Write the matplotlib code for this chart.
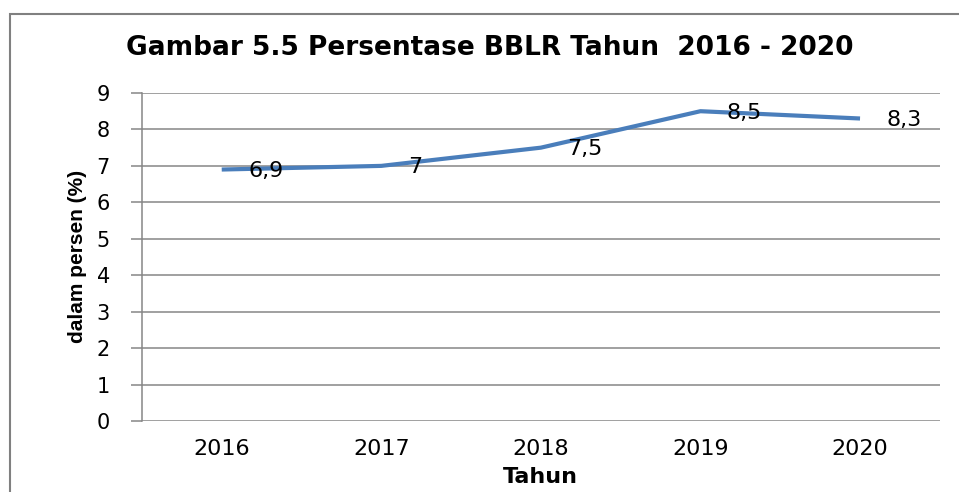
import matplotlib
matplotlib.use("Agg")
import matplotlib.pyplot as plt
from matplotlib.patches import Rectangle

tahun = ["2016", "2017", "2018", "2019", "2020"]
persen = [6.9, 7.0, 7.5, 8.5, 8.3]
label_nilai = ["6,9", "7", "7,5", "8,5", "8,3"]

fig = plt.figure(figsize=(9.59, 4.92), dpi=100)
ax = fig.add_axes([0.148, 0.1443, 0.832, 0.6667])

x = list(range(len(tahun)))
ax.plot(x, persen, color="#4A7EBB", linewidth=3, solid_capstyle="butt")

for xi, yi, s in zip(x, persen, label_nilai):
    ax.annotate(s, (xi, yi), xytext=(19, -1), textcoords="offset points",
                ha="left", va="center", fontsize=16, color="black")

ax.set_xlim(-0.5, len(tahun) - 0.5)
ax.set_ylim(0, 9)
ax.set_yticks(range(0, 10))
ax.set_xticks(x)
ax.set_xticklabels(tahun, fontsize=16)
ax.tick_params(axis="x", length=0, pad=13)
ax.tick_params(axis="y", length=8, width=1.1, color="#868686", pad=15, labelsize=15)

ax.grid(axis="y", color="#868686", linewidth=1.1)
ax.set_axisbelow(True)
for side in ["top", "right", "bottom"]:
    ax.spines[side].set_visible(False)
ax.spines["left"].set_color("#868686")
ax.spines["left"].set_linewidth(1.1)

fig.text(0.511, 0.902, "Gambar 5.5 Persentase BBLR Tahun  2016 - 2020",
         ha="center", va="center", fontsize=19, fontweight="bold")
fig.text(0.563, 0.030, "Tahun", ha="center", va="center",
         fontsize=16, fontweight="bold")
fig.text(0.081, 0.478, "dalam persen (%)", ha="center", va="center",
         rotation=90, fontsize=15, fontweight="bold",
         family=["Liberation Sans", "DejaVu Sans"])

# bingkai grafik
fig.patches.append(Rectangle((0.0105, -0.1), 1.2, 1.071, transform=fig.transFigure,
                             fill=False, edgecolor="#808080", linewidth=1.5))

fig.savefig("out.png", dpi=100)
